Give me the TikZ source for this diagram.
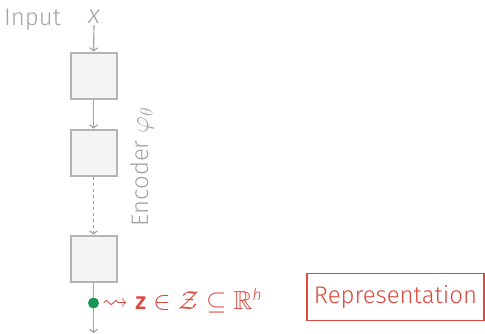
\documentclass[tikz,border=0pt]{standalone}
\usepackage{fix-cm}
\usepackage{amssymb}
\usepackage{fontspec}
\setmainfont{Fira Sans}[UprightFont=* Light, ItalicFont=* Light Italic, BoldFont=* Medium]
\DeclareMathSizes{24}{26}{18}{14}
\usetikzlibrary{arrows.meta,positioning}

\definecolor{encgray}{RGB}{165,165,165}
\definecolor{layergray}{RGB}{180,180,180}
\definecolor{layerfill}{RGB}{244,244,244}
\definecolor{repred}{RGB}{222,72,62}
\definecolor{dotgreen}{RGB}{22,150,82}

\begin{document}
\begin{tikzpicture}[x=1pt, y=-1pt, font=\fontsize{24}{28}\selectfont]
  \useasboundingbox (0,0) rectangle (485,333);

  % Parameters
  \def\layersize{46pt}
  \def\layergap{29pt}

  \tikzset{
    layer/.style={draw=layergray, fill=layerfill, line width=2pt,
      minimum size=\layersize, inner sep=0pt},
    flow/.style={draw=encgray, line width=1.2pt,
      -{Straight Barb[length=3pt,width=8pt]}},
  }

  % Input
  \node[text=encgray, anchor=base west, inner sep=0pt] (inlabel) at (4,25) {Input};
  \node[text=encgray, inner sep=1pt] (x) at (94,17) {\fontsize{26}{28}\selectfont\itshape x};

  % Encoder layers
  \node[layer] (l1) at (93.5,75.5) {};
  \node[layer, below=\layergap of l1] (l2) {};
  \node[layer, below=2*\layergap of l2] (l3) {};
  \node[text=encgray, rotate=90] (enc) at (142,167) {Encoder $\varphi_\theta$};

  % Output of the encoder
  \node[circle, fill=dotgreen, inner sep=0pt, minimum size=11pt] (z) at (93.5,303) {};
  \coordinate (out) at (93.5,333);

  \draw[flow] (x) -- (l1);
  \draw[flow] (l1) -- (l2);
  \draw[flow, dash pattern=on 3pt off 3pt] (l2) -- (l3);
  \draw[draw=encgray, line width=1.2pt] (l3) -- (z);
  \draw[flow] (z) -- (out);

  % Representation
  \node[text=repred, anchor=west, inner sep=0pt] (zlabel) at (102,301)
    {$\leadsto \mbox{\bfseries z} \in \mathcal{Z} \subseteq \mathbb{R}^{\mbox{\fontsize{16}{18}\selectfont\itshape h}}$};
  \node[draw=repred, line width=1.6pt, text=repred, minimum width=177pt,
    minimum height=47pt] (repr) at (395.5,297) {Representation};
\end{tikzpicture}
\end{document}
